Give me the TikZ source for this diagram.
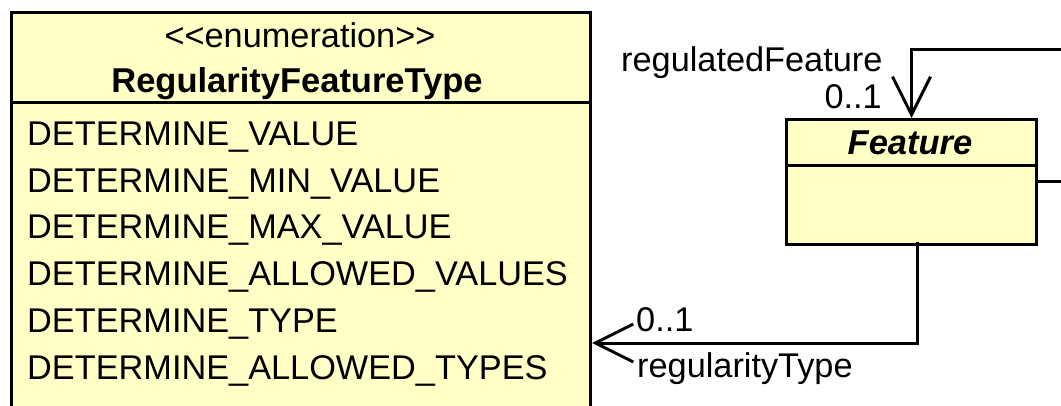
\documentclass[tikz,border=0pt]{standalone}
\usepackage{fontspec}
\setmainfont{Liberation Sans}
\usetikzlibrary{arrows.meta}
\definecolor{umlfill}{HTML}{FFFFC6}
\tikzset{
  umlline/.style={line width=3pt, line join=miter},
  umlbox/.style={draw, umlline, fill=umlfill, rectangle, inner sep=0pt, anchor=north west},
  lbl/.style={inner sep=0pt, font=\fontsize{34.3}{40}\selectfont},
  openhead/.style={-{Straight Barb[length=38pt, width=38pt, line width=3pt]}}
}
\begin{document}
\begin{tikzpicture}[x=1pt, y=-1pt]
  \clip (0,0) rectangle (1061,406);
  \fill[white] (0,0) rectangle (1061,406);

  % enumeration class
  \node[umlbox, minimum width=579pt, minimum height=420pt] (enum) at (10,11) {};
  \draw[umlline] (enum.west |- 0,103) -- (enum.east |- 0,103);
  \node[lbl, anchor=base] (stereo) at (300,48) {<\kern0pt<enumeration>\kern0pt>};
  \node[lbl, anchor=base, font=\fontsize{34.5}{40}\selectfont\bfseries] (ename) at (297,93) {RegularityFeatureType};
  \node[lbl, anchor=base west] (lit1) at (27,146) {DETERMINE\_VALUE};
  \node[lbl, anchor=base west] (lit2) at (27,193) {DETERMINE\_MIN\_VALUE};
  \node[lbl, anchor=base west] (lit3) at (27,239) {DETERMINE\_MAX\_VALUE};
  \node[lbl, anchor=base west] (lit4) at (27,286) {DETERMINE\_ALLOWED\_VALUES};
  \node[lbl, anchor=base west] (lit5) at (27,333) {DETERMINE\_TYPE};
  \node[lbl, anchor=base west] (lit6) at (27,379) {DETERMINE\_ALLOWED\_TYPES};

  % abstract class Feature
  \node[umlbox, minimum width=250pt, minimum height=125pt] (feat) at (785,118) {};
  \draw[umlline] (feat.west |- 0,166) -- (feat.east |- 0,166);
  \node[lbl, anchor=base, font=\fontsize{34.5}{40}\selectfont\bfseries\itshape] (fname) at (910,155) {Feature};

  % self association regulatedFeature (continues beyond the right edge)
  \coordinate (selfout) at (1070,182);
  \coordinate (selfin) at (1070,50);
  \draw[umlline] (feat.east |- selfout) -- (selfout);
  \draw[umlline, openhead] (selfin) -| (feat.north);
  \node[lbl, anchor=base west] (rolea) at (621,72) {regulatedFeature};
  \node[lbl, anchor=base east] (multa) at (882,109) {0..1};

  % association regularityType
  \coordinate (fbot) at (917,242);
  \draw[umlline, openhead] (fbot) |- (enum.east |- 0,343);
  \node[lbl, anchor=base west] (multb) at (636,331) {0..1};
  \node[lbl, anchor=base west] (roleb) at (637,377) {regularityType};
\end{tikzpicture}
\end{document}
